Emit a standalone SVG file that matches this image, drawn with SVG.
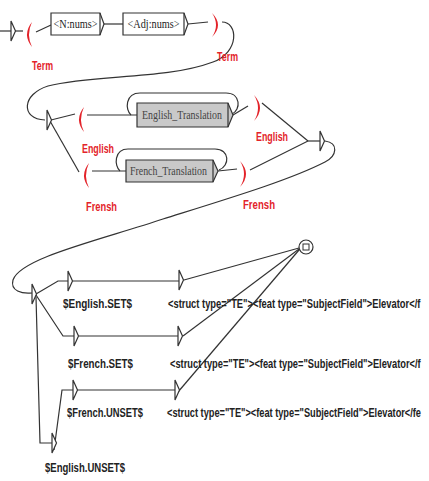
<svg xmlns="http://www.w3.org/2000/svg" width="429" height="481" viewBox="0 0 429 481">
<defs>
<style>
.ln{fill:none;stroke:#333;stroke-width:1.2}
.tri{fill:#fff;stroke:#333;stroke-width:1.2;stroke-linejoin:miter}
.box{fill:#fff;stroke:#333;stroke-width:1.2}
.gbox{fill:#c9c9c9;stroke:#333;stroke-width:1.2}
.par{fill:#e3232a;stroke:none}
.red{font-family:"Liberation Sans",Arial,sans-serif;font-weight:bold;font-size:12px;fill:#e3232a}
.btxt{font-family:"Liberation Serif","Times New Roman",serif;font-size:11.5px;fill:#222;text-anchor:middle}
.gtxt{font-family:"Liberation Serif","Times New Roman",serif;font-size:12px;fill:#444;text-anchor:middle}
.out{font-family:"Liberation Sans",Arial,sans-serif;font-weight:bold;font-size:12px;fill:#222}
</style>
<path id="arr" d="M0,-10 L0,10 L4.5,0 Z"/>
</defs>
<rect width="429" height="481" fill="#fff"/>

<g id="connectors">
<line class="ln" x1="0" y1="31" x2="11" y2="31"/>
<line class="ln" x1="15" y1="31" x2="23" y2="31"/>
<line class="ln" x1="36" y1="32" x2="51" y2="25"/>
<line class="ln" x1="104" y1="24" x2="123" y2="24"/>
<line class="ln" x1="188" y1="24" x2="208" y2="22"/>
<path class="ln" d="M222,22 C238,22 240,52 213,62 C165,80 95,74 48,86 C22,94 20,119 45,120"/>
<line class="ln" x1="51" y1="120" x2="75" y2="114"/>
<line class="ln" x1="87" y1="115" x2="137" y2="115"/>
<path class="ln" d="M131,115 C125,110 125,93 140,93 L226,93 C241,93 241,110 232,114"/>
<line class="ln" x1="233" y1="115" x2="248" y2="106"/>
<line class="ln" x1="50" y1="121" x2="79" y2="172"/>
<line class="ln" x1="92" y1="171" x2="126" y2="171"/>
<path class="ln" d="M120,171 C114,166 114,149 128,149 L215,149 C230,149 230,166 219,170"/>
<line class="ln" x1="218" y1="171" x2="237" y2="169"/>
<line class="ln" x1="262" y1="103" x2="308" y2="141"/>
<line class="ln" x1="250" y1="170" x2="308" y2="141"/>
<line class="ln" x1="308" y1="141" x2="320" y2="141"/>
<path class="ln" d="M325,141 C339,143 337,156 325,162 C290,180 230,198 163,219 C100,240 20,258 13,280 C10,291 22,294 32,293"/>
<polyline class="ln" points="36,294 58,281 68,281"/>
<line class="ln" x1="73" y1="281" x2="179" y2="281"/>
<line class="ln" x1="184" y1="280" x2="299" y2="248"/>
<polyline class="ln" points="36,295 63,336 74,336"/>
<line class="ln" x1="79" y1="336" x2="178" y2="336"/>
<line class="ln" x1="183" y1="336" x2="299" y2="249"/>
<polyline class="ln" points="36,297 40,443 52,443"/>
<polyline class="ln" points="54,450 62,390 73,390"/>
<line class="ln" x1="77" y1="390" x2="175" y2="390"/>
<line class="ln" x1="178" y1="392" x2="299" y2="250"/>
</g>

<g id="initial"><use href="#arr" class="tri" x="11" y="31"/></g>

<g id="term_open">
<path class="par" d="M32,22 Q22,34.5 32,47 Q26,34.5 32,22 Z"/>
<text class="red" x="32" y="70" textLength="21" lengthAdjust="spacingAndGlyphs">Term</text>
</g>

<g id="box_n_nums">
<path class="box" d="M51,13 H100 L104,24 L100,35 H51 Z"/>
<line class="ln" x1="100" y1="13" x2="100" y2="35"/>
<text class="btxt" x="75.5" y="28" textLength="44" lengthAdjust="spacingAndGlyphs">&lt;N:nums&gt;</text>
</g>

<g id="box_adj_nums">
<path class="box" d="M123,13 H184 L188,24 L184,35 H123 Z"/>
<line class="ln" x1="184" y1="13" x2="184" y2="35"/>
<text class="btxt" x="153.5" y="28" textLength="52" lengthAdjust="spacingAndGlyphs">&lt;Adj:nums&gt;</text>
</g>

<g id="term_close">
<path class="par" d="M212,13 Q224,25 212,37 Q220,25 212,13 Z"/>
<text class="red" x="217" y="61" textLength="21" lengthAdjust="spacingAndGlyphs">Term</text>
</g>

<g id="state_split"><use href="#arr" class="tri" x="47" y="120"/></g>

<g id="english_open">
<path class="par" d="M84,107 Q74,119.5 84,132 Q78,119.5 84,107 Z"/>
<text class="red" x="82" y="153" textLength="32" lengthAdjust="spacingAndGlyphs">English</text>
</g>

<g id="box_english_translation">
<path class="gbox" d="M137,103 H228 L233,115 L228,127 H137 Z"/>
<line class="ln" x1="228" y1="103" x2="228" y2="127"/>
<text class="gtxt" x="182" y="119" textLength="80" lengthAdjust="spacingAndGlyphs">English_Translation</text>
</g>

<g id="english_close">
<path class="par" d="M254,95 Q266,108 254,121 Q262,108 254,95 Z"/>
<text class="red" x="256" y="141" textLength="32" lengthAdjust="spacingAndGlyphs">English</text>
</g>

<g id="french_open">
<path class="par" d="M89,163 Q79,175.5 89,188 Q83,175.5 89,163 Z"/>
<text class="red" x="86" y="211" textLength="31" lengthAdjust="spacingAndGlyphs">Frensh</text>
</g>

<g id="box_french_translation">
<path class="gbox" d="M126,160 H213 L218,171 L213,182 H126 Z"/>
<line class="ln" x1="213" y1="160" x2="213" y2="182"/>
<text class="gtxt" x="168.5" y="175" textLength="77" lengthAdjust="spacingAndGlyphs">French_Translation</text>
</g>

<g id="french_close">
<path class="par" d="M240,161 Q252,174 240,187 Q248,174 240,161 Z"/>
<text class="red" x="243" y="209" textLength="32" lengthAdjust="spacingAndGlyphs">Frensh</text>
</g>

<g id="state_join"><use href="#arr" class="tri" x="320" y="141"/></g>

<g id="state_choice"><use href="#arr" class="tri" x="32" y="294"/></g>

<g id="english_set">
<use href="#arr" class="tri" x="68" y="281"/>
<text class="out" x="63" y="308" textLength="69" lengthAdjust="spacingAndGlyphs">$English.SET$</text>
</g>
<g id="output_1">
<use href="#arr" class="tri" x="179" y="280"/>
<text class="out" transform="translate(168,308) scale(0.78,1)">&lt;struct type="TE"&gt;&lt;feat type="SubjectField"&gt;Elevator&lt;/f</text>
</g>

<g id="french_set">
<use href="#arr" class="tri" x="74" y="336"/>
<text class="out" x="68" y="368" textLength="65" lengthAdjust="spacingAndGlyphs">$French.SET$</text>
</g>
<g id="output_2">
<use href="#arr" class="tri" x="178" y="336"/>
<text class="out" transform="translate(170,368) scale(0.775,1)">&lt;struct type="TE"&gt;&lt;feat type="SubjectField"&gt;Elevator&lt;/f</text>
</g>

<g id="french_unset">
<use href="#arr" class="tri" x="73" y="390"/>
<text class="out" x="67" y="417" textLength="76" lengthAdjust="spacingAndGlyphs">$French.UNSET$</text>
</g>
<g id="output_3">
<use href="#arr" class="tri" x="175" y="390"/>
<text class="out" transform="translate(167,417) scale(0.77,1)">&lt;struct type="TE"&gt;&lt;feat type="SubjectField"&gt;Elevator&lt;/fe</text>
</g>

<g id="english_unset">
<use href="#arr" class="tri" x="52" y="443"/>
<text class="out" x="45" y="472" textLength="80" lengthAdjust="spacingAndGlyphs">$English.UNSET$</text>
</g>

<g id="final_state">
<circle cx="306" cy="247" r="7" fill="#fff" stroke="#333" stroke-width="1.2"/>
<rect x="303" y="244" width="6" height="6" fill="none" stroke="#333" stroke-width="1"/>
</g>
</svg>
